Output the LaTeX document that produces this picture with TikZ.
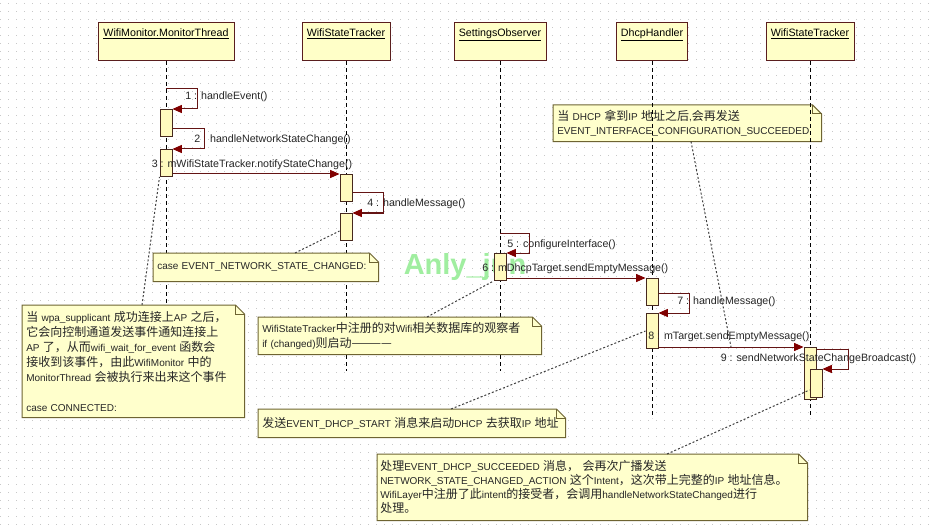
\documentclass[tikz,border=0pt]{standalone}
\usepackage{fontspec}
\setmainfont{Liberation Sans}
\newfontfamily\cjk{Noto Sans CJK SC}
\usetikzlibrary{arrows.meta}
\newcommand{\zh}[1]{{\cjk\fontsize{9pt}{11pt}\selectfont #1}}
\newcommand{\notefold}[1]{%
  \fill[white] ([xshift=-6.75pt]#1.north east) -| ([yshift=-6.75pt]#1.north east) -- cycle;
  \draw[noteline] (#1.north west) -- ([xshift=-6.75pt]#1.north east) -- ([yshift=-6.75pt]#1.north east) -- (#1.south east) -- (#1.south west) -- cycle;
  \draw[noteline] ([xshift=-6.75pt]#1.north east) |- ([yshift=-6.75pt]#1.north east);}
\definecolor{headfill}{RGB}{255,255,200}
\definecolor{headline}{RGB}{90,30,30}
\definecolor{actfill}{RGB}{255,250,190}
\definecolor{actline}{RGB}{70,40,30}
\definecolor{msgline}{RGB}{100,20,20}
\definecolor{tipred}{RGB}{128,0,0}
\definecolor{notefill}{RGB}{255,255,204}
\definecolor{noteborder}{RGB}{110,100,50}
\definecolor{gridgray}{RGB}{200,200,200}
\definecolor{stampgreen}{RGB}{160,238,160}
\begin{document}
\begin{tikzpicture}[x=0.75pt,y=-0.75pt,
  head/.style={draw=headline, fill=headfill, line width=0.75pt, anchor=north, inner ysep=0pt, text height=10.5pt, text depth=18pt, font=\fontsize{8}{10}\selectfont},
  life/.style={draw=black, line width=0.75pt, dash pattern=on 3pt off 2.25pt},
  act/.style={draw=actline, fill=actfill, line width=0.75pt, anchor=north, minimum width=9pt, inner sep=0pt},
  lbl/.style={anchor=west, inner sep=0pt, text=black!85, font=\fontsize{8}{10}\selectfont},
  call/.style={draw=msgline, line width=0.75pt, -{Triangle[length=7pt,width=6pt,color=tipred]}},
  note/.style={fill=notefill, anchor=north west, align=left, inner xsep=3pt, inner ysep=0pt, text=black!85, font=\fontsize{7.5}{10}\selectfont},
  noteline/.style={draw=noteborder, line width=0.75pt},
  link/.style={draw=black!75, line width=0.75pt, dash pattern=on 1.5pt off 1.5pt},
  griddot/.style={draw=gridgray, line width=0.75pt, dash pattern=on 0.75pt off 5.25pt},
  stamp/.style={text=stampgreen, font=\bfseries\fontsize{21.75}{24}\selectfont, inner sep=0pt}]
\fill[white] (0,0) rectangle (930,527);
\useasboundingbox (0,0) rectangle (930,527);
\foreach \y in {4,12,...,524}
{
	\draw[griddot] (0,\y) -- (930,\y);
}
\node[note, text width=195pt, minimum height=27pt] (noteIP) at (553,105) {\zh{当} DHCP \zh{拿到}IP \zh{地址之后},\zh{会再发送}\\EVENT\_INTERFACE\_CONFIGURATION\_SUCCEEDED};
\notefold{noteIP}
\node[head, minimum width=102pt] (monitor) at (166,22) {\underline{WifiMonitor.MonitorThread}};
\node[head, minimum width=66pt] (trackerA) at (346,22) {\underline{WifiStateTracker}};
\node[head, minimum width=69pt] (observer) at (500,22) {\underline{SettingsObserver}};
\node[head, minimum width=51.75pt] (dhcp) at (652,22) {\underline{DhcpHandler}};
\node[head, minimum width=66pt] (trackerB) at (810,22) {\underline{WifiStateTracker}};
\foreach \h in {monitor,trackerA,observer}
{
	\draw[life] (\h.south) -- ++(0,310);
}
\foreach \h in {dhcp,trackerB}
{
	\draw[life] (\h.south) -- ++(0,357);
}
\node[stamp] (sign) at (465,267) {Anly\_jun};
\node[act, minimum height=20.25pt] (act1) at (monitor.south |- 0,109) {};
\node[act, minimum height=20.25pt] (act2) at (monitor.south |- 0,149) {};
\node[act, minimum height=20.25pt] (act3) at (trackerA.south |- 0,174) {};
\node[act, minimum height=20.25pt] (act4) at (trackerA.south |- 0,213) {};
\node[act, minimum height=20.25pt] (act5) at (observer.south |- 0,253) {};
\node[act, minimum height=20.25pt] (act6) at (dhcp.south |- 0,278) {};
\node[act, minimum height=26.25pt] (act7) at (dhcp.south |- 0,313) {};
\node[act, minimum height=39pt] (act8) at (trackerB.south |- 0,347) {};
\node[act, minimum height=21pt, xshift=4.5pt] (act9) at (trackerB.south |- 0,369) {};
\node[lbl] (lab1) at (185,97) {1 : handleEvent()};
\node[lbl] (lab2) at (194,140) {2 : handleNetworkStateChange()};
\node[lbl] (lab3) at (151.5,165) {3 : mWifiStateTracker.notifyStateChange()};
\node[lbl] (lab4) at (367,204) {4 : handleMessage()};
\node[lbl] (lab5) at (507,244.5) {5 : configureInterface()};
\node[lbl] (lab6) at (482,269) {6 : mDhcpTarget.sendEmptyMessage()};
\node[lbl] (lab7) at (677,301.5) {7 : handleMessage()};
\node[lbl] (lab8) at (648,337) {8 : mTarget.sendEmptyMessage()};
\node[lbl] (lab9) at (720.5,359) {9 : sendNetworkStateChangeBroadcast()};
\draw[call] (monitor.south |- 0,89) -- ++(31,0) |- (act1.north east);
\draw[call] (act1.east |- 0,129) -- ++(31.5,0) |- (act2.north east);
\draw[call] (act2.east |- act3.north) -- (act3.north west);
\draw[call] (act3.east |- 0,193) -- ++(31,0) |- (act4.north east);
\draw[call] (observer.south |- 0,233) -- ++(29.5,0) |- (act5.north east);
\draw[call] (act5.east |- act6.north) -- (act6.north west);
\draw[call] (act6.east |- 0,293) -- ++(30.5,0) |- (act7.north east);
\draw[call] (act7.east |- act8.north) -- coordinate[pos=.5] (mid8) (act8.north west);
\draw[call] (act8.east |- 0,349) -- ++(31.5,0) |- (act9.north east);
\node[note, text width=162.75pt, minimum height=21pt] (noteCase) at (153,253) {case EVENT\_NETWORK\_STATE\_CHANGED:};
\node[note, text width=160.5pt, minimum height=84pt, font=\fontsize{7.5}{11.25}\selectfont] (noteConn) at (22,305) {\zh{当} wpa\_supplicant \zh{成功连接上}AP \zh{之后，}\\ \zh{它会向控制通道发送事件通知连接上}\\ AP \zh{了，从而}wifi\_wait\_for\_event \zh{函数会}\\ \zh{接收到该事件，由此}WifiMonitor \zh{中的}\\ MonitorThread \zh{会被执行来出来这个事件}\\ \mbox{}\\ case CONNECTED:};
\node[note, text width=206.25pt, minimum height=27.75pt, font=\fontsize{7.5}{11.25}\selectfont] (noteObs) at (258,317) {WifiStateTracker\zh{中注册的对}Wifi\zh{相关数据库的观察者}\\ if (changed)\zh{则启动————}};
\node[note, text width=224.25pt, minimum height=21pt] (noteStart) at (258,409) {\zh{发送}EVENT\_DHCP\_START \zh{消息来启动}DHCP \zh{去获取}IP \zh{地址}};
\node[note, text width=318pt, inner xsep=2.25pt, minimum height=49.5pt, font=\fontsize{7.5}{10.5}\selectfont] (noteBcast) at (377,454) {\zh{处理}EVENT\_DHCP\_SUCCEEDED \zh{消息，} \zh{会再次广播发送}\\ NETWORK\_STATE\_CHANGED\_ACTION \zh{这个}Intent\zh{，这次带上完整的}IP \zh{地址信息。}\\ WifiLayer\zh{中注册了此}intent\zh{的接受者，会调用}handleNetworkStateChanged\zh{进行}\\ \zh{处理。}};
\foreach \n in {noteCase,noteConn,noteObs,noteStart,noteBcast}
{
	\notefold{\n}
}
\draw[link] (noteIP.south -| 691,0) -- (mid8);
\draw[link] (noteCase.north -| 295,0) -- (act4.west |- 0,231);
\draw[link] (noteConn.north -| 142,0) -- (act2.south west);
\draw[link] (noteObs.north -| 427,0) -- (act5.south west);
\draw[link] (noteStart.north -| 451,0) -- (act7.west);
\draw[link] (noteBcast.north -| 667,0) -- (act9.west |- 0,390);
\end{tikzpicture}
\end{document}
